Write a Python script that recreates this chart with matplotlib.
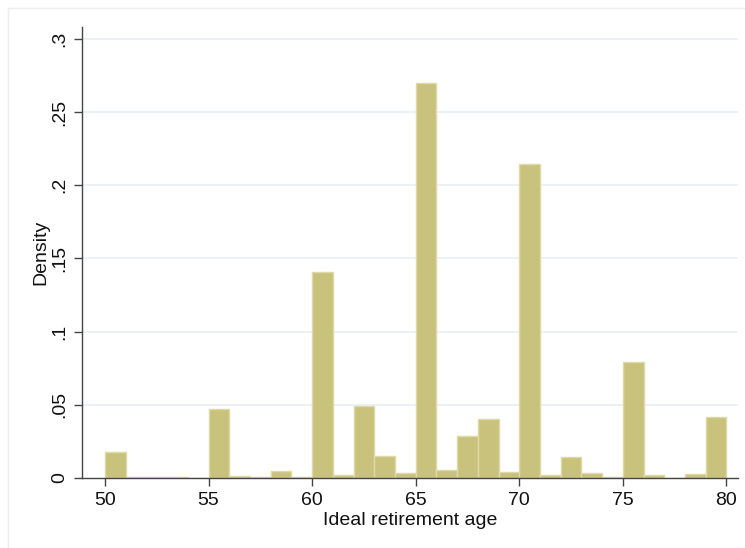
import numpy as np
import matplotlib
matplotlib.use("Agg")
from matplotlib import pyplot as plt
from matplotlib.lines import Line2D

# Histogram of ideal retirement age, one-year bins from 50 to 80 (density)
bin_edges = np.arange(50, 81, 1)
density = [
    0.0178, 0.0007, 0.0007, 0.0007, 0.0, 0.047, 0.0017, 0.0005, 0.0046, 0.0007,
    0.1407, 0.0018, 0.0494, 0.0152, 0.0031, 0.2702, 0.0057, 0.0289, 0.0403, 0.0041,
    0.2147, 0.0018, 0.0141, 0.0036, 0.001, 0.0794, 0.0018, 0.0, 0.0027, 0.042,
]
x_ticks = [50, 55, 60, 65, 70, 75, 80]
y_ticks = [0, 0.05, 0.1, 0.15, 0.2, 0.25, 0.3]
y_tick_labels = ["0", ".05", ".1", ".15", ".2", ".25", ".3"]

plt.rcParams["font.family"] = ["Liberation Sans", "DejaVu Sans"]
plt.rcParams["font.size"] = 14

fig = plt.figure(figsize=(7.45, 5.48), dpi=100)
ax = fig.add_axes([82 / 745, 1 - 478 / 548, (738 - 82) / 745, (478 - 27) / 548])

# faint outer graph-region frame
fig.add_artist(Line2D([8 / 745, 1], [1 - 8 / 548, 1 - 8 / 548], color="#eeeeee", lw=1))
fig.add_artist(Line2D([8 / 745, 8 / 745], [0, 1 - 8 / 548], color="#eeeeee", lw=1))

for yv in y_ticks[1:]:
    ax.axhline(yv, color="#e8eff3", lw=1.2, zorder=0)

ax.bar(bin_edges[:-1], density, width=np.diff(bin_edges), align="edge",
       color="#c9c27d", edgecolor="#dedaa8", linewidth=1.0, zorder=2)

ax.set_xlim(48.89, 80.56)
ax.set_ylim(0, 0.3082)
ax.set_xticks(x_ticks)
ax.set_yticks(y_ticks)
ax.set_yticklabels(y_tick_labels, rotation=90, va="center")

for side in ["top", "right"]:
    ax.spines[side].set_visible(False)
for side in ["left", "bottom"]:
    ax.spines[side].set_color("#444444")
    ax.spines[side].set_linewidth(1.0)

ax.tick_params(axis="both", direction="out", length=6, width=1, color="#444444",
               labelsize=14, labelcolor="#111111", pad=4)
ax.set_xlabel("Ideal retirement age", fontsize=14, labelpad=2, color="#111111")
ax.set_ylabel("Density", fontsize=14, labelpad=1, color="#111111")

plt.savefig("out.png", dpi=100)
